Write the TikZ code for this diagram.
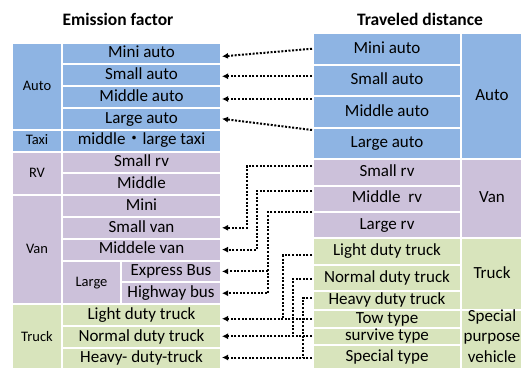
\documentclass[tikz,border=0pt]{standalone}
\usepackage{fontspec}
\setmainfont{Carlito}
\newfontfamily\cjk{Noto Sans CJK JP}
\usetikzlibrary{arrows.meta}
\definecolor{cblue}{RGB}{142,180,227}
\definecolor{cpurple}{RGB}{204,193,218}
\definecolor{cgreen}{RGB}{216,228,188}
\tikzset{
  cell/.style={draw=white,line width=2pt,inner sep=0pt,font=\fontsize{17}{20}\selectfont,text height=11.5pt,text depth=3pt},
  grp/.style={font=\fontsize{14.5}{17}\selectfont},
  dotline/.style={line width=2pt,dash pattern=on 2pt off 1.6pt},
  conn/.style={dotline,-{Latex[length=6pt,width=6pt]}},
  head/.style={font=\fontsize{17.5}{20}\selectfont\bfseries}
}
\newcommand\mycell[8][]{\node[cell,#1,fill=#7,minimum width={(#5-#3)*1pt},minimum height={(#6-#4)*1pt}] (#2) at ({(#3+#5)/2},{(#4+#6)/2}) {#8};}
\begin{document}
\begin{tikzpicture}[x=1pt,y=-1pt]
\useasboundingbox (0,0) rectangle (521,367);
\clip (0,0) rectangle (521,367);
% headings
\node[head] (h1) at (118,19) {Emission factor};
\node[head] (h2) at (420,19) {Traveled distance};
% left table groups
\mycell[grp]{LAuto}{12}{42.5}{62}{129.7}{cblue}{Auto}
\mycell[grp]{LTaxi}{12}{129.7}{62}{151.5}{cblue}{Taxi}
\mycell[grp]{LRV}{12}{151.5}{62}{195.1}{cpurple}{RV}
\mycell[grp]{LVan}{12}{195.1}{62}{304.1}{cpurple}{Van}
\mycell[grp]{LTruck}{12}{304.1}{62}{369.5}{cgreen}{Truck}
% left table rows
\mycell{LMini}{62}{42.5}{221}{64.3}{cblue}{Mini auto}
\mycell{LSmall}{62}{64.3}{221}{86.1}{cblue}{Small auto}
\mycell{LMiddle}{62}{86.1}{221}{107.9}{cblue}{Middle auto}
\mycell{LLarge}{62}{107.9}{221}{129.7}{cblue}{Large auto}
\mycell{LTaxiSub}{62}{129.7}{221}{151.5}{cblue}{middle{\cjk ・}large taxi}
\mycell{LSmallrv}{62}{151.5}{221}{173.3}{cpurple}{Small rv}
\mycell{LMiddlerv}{62}{173.3}{221}{195.1}{cpurple}{Middle}
\mycell{LMiniVan}{62}{195.1}{221}{216.9}{cpurple}{Mini}
\mycell{LSmallVan}{62}{216.9}{221}{238.7}{cpurple}{Small van}
\mycell{LMidVan}{62}{238.7}{221}{260.5}{cpurple}{Middele van}
\mycell[grp]{LLargeVan}{62}{260.5}{121}{304.1}{cpurple}{Large}
\mycell{LExpress}{121}{260.5}{221}{282.3}{cpurple}{Express Bus}
\mycell{LHighway}{121}{282.3}{221}{304.1}{cpurple}{Highway bus}
\mycell{LLight}{62}{304.1}{221}{325.9}{cgreen}{Light duty truck}
\mycell{LNormal}{62}{325.9}{221}{347.7}{cgreen}{Normal duty truck}
\mycell{LHeavy}{62}{347.7}{221}{369.5}{cgreen}{Heavy- duty-truck}
% right table rows
\mycell{RMini}{313}{33}{461}{64.5}{cblue}{Mini auto}
\mycell{RSmall}{313}{64.5}{461}{96}{cblue}{Small auto}
\mycell{RMiddle}{313}{96}{461}{128}{cblue}{Middle auto}
\mycell{RLarge}{313}{128}{461}{159}{cblue}{Large auto}
\mycell{RSmallrv}{313}{159}{461}{185.5}{cpurple}{Small rv}
\mycell{RMiddlerv}{313}{185.5}{461}{211.5}{cpurple}{Middle\ \ rv}
\mycell{RLargerv}{313}{211.5}{461}{238}{cpurple}{Large rv}
\mycell{RLight}{313}{238}{461}{264.5}{cgreen}{Light duty truck}
\mycell{RNormal}{313}{264.5}{461}{291}{cgreen}{Normal duty truck}
\mycell{RHeavy}{313}{291}{461}{310}{cgreen}{Heavy duty truck}
\mycell{RTow}{313}{310}{461}{327.5}{cgreen}{Tow type}
\mycell{RSurvive}{313}{327.5}{461}{345}{cgreen}{survive type}
\mycell{RSpecial}{313}{345}{461}{370}{cgreen}{Special type}
% right table groups
\mycell{RAuto}{461}{33}{523}{159}{cblue}{Auto}
\mycell{RVan}{461}{159}{523}{238}{cpurple}{Van}
\mycell{RTruck}{461}{238}{523}{310}{cgreen}{Truck}
\mycell{RSPV}{461}{310}{523}{370}{cgreen}{}
\node[font=\fontsize{17}{20.5}\selectfont,align=center,inner sep=0pt] (spvtext) at (492,336) {Special\\purpose\\vehicle};
% connector points
\coordinate (s2) at ([yshift=4pt]RSmall.west);
\coordinate (s3) at ([yshift=13pt]RMiddle.west);
\coordinate (s4) at ([yshift=13.5pt]RLarge.west);
\coordinate (s5) at ([yshift=6.5pt]RSmallrv.west);
\coordinate (s6) at ([yshift=8pt]RMiddlerv.west);
\coordinate (s7) at ([yshift=12.5pt]RLargerv.west);
\coordinate (s8) at ([yshift=-4pt]RLight.west);
\coordinate (s9) at ([yshift=-1pt]RNormal.west);
\coordinate (s10) at ([yshift=2.5pt]RHeavy.west);
\coordinate (x5) at (247,0);
\coordinate (x6) at (257,0);
\coordinate (x7) at (268,0);
\coordinate (x8) at (283,0);
\coordinate (x9) at (293,0);
\coordinate (x10) at (303,0);
% connectors
\draw[conn] (RMini.west) -- ([yshift=-3pt]LMini.east);
\draw[conn] (s2) -- (s2 -| LSmall.east);
\draw[conn] (s3) -- (s3 -| LMiddle.east);
\draw[conn] (s4) -- (LLarge.east);
\draw[conn] (s5) -- (s5 -| x5) |- (LSmallVan.east);
\draw[conn] (s6) -- (s6 -| x6) |- (LMidVan.east);
\draw[conn] (s7) -- (s7 -| x7) |- (LHighway.east);
\draw[conn] (LExpress.east -| x7) -- (LExpress.east);
\draw[dotline] (s8) -- (s8 -| x8) -- (RTow.west -| x8);
\draw[dotline] (s9) -- (s9 -| x9) -- (RSurvive.west -| x9);
\draw[dotline] (s10) -- (s10 -| x10) -- (RSpecial.west -| x10);
\draw[conn] (RTow.west) -- (RTow.west -| LLight.east);
\draw[conn] (RSurvive.west) -- (RSurvive.west -| LNormal.east);
\draw[conn] (RSpecial.west) -- (RSpecial.west -| LHeavy.east);
\end{tikzpicture}
\end{document}
